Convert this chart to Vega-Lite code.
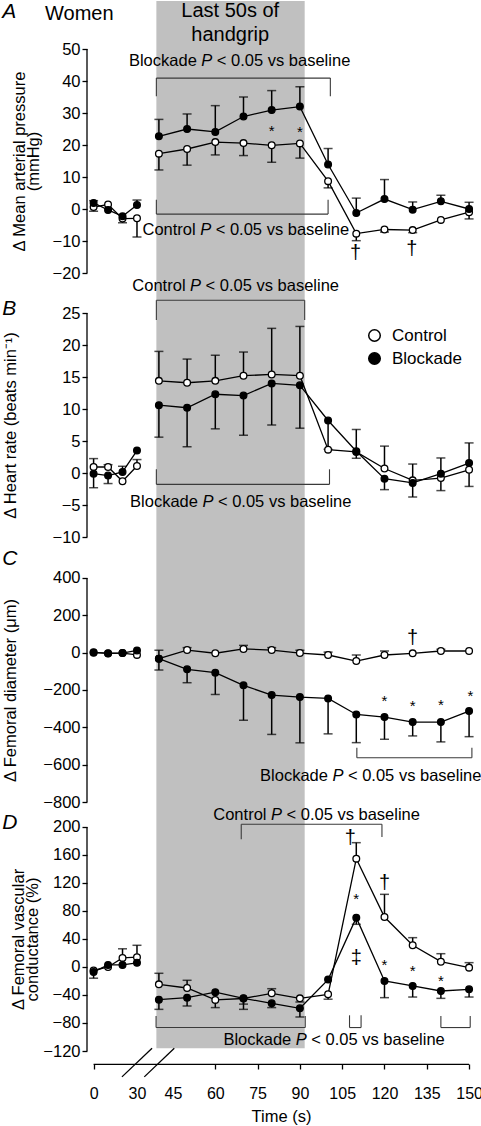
{
"$schema": "https://vega.github.io/schema/vega-lite/v6.json",
"padding": {"left": 2, "top": 0, "right": 0, "bottom": 0},
"background": "white",
"spacing": 0,
"bounds": "flush",
"datasets": {
"s": [
{"p":"A","g":"Control","ph":"pre","t":0,"v":0.6,"e":-0.7},{"p":"A","g":"Control","ph":"pre","t":10,"v":1.4,"e":1.4},{"p":"A","g":"Control","ph":"pre","t":20,"v":-3.0,"e":-4.3},{"p":"A","g":"Control","ph":"pre","t":30,"v":-2.9,"e":-8.75},
{"p":"A","g":"Control","ph":"ex","t":40,"v":17.3,"e":12.2},{"p":"A","g":"Control","ph":"ex","t":50,"v":18.75,"e":13.7},{"p":"A","g":"Control","ph":"ex","t":60,"v":20.9,"e":16.9},{"p":"A","g":"Control","ph":"ex","t":70,"v":20.6,"e":16.7},{"p":"A","g":"Control","ph":"ex","t":80,"v":19.9,"e":14.6},{"p":"A","g":"Control","ph":"ex","t":90,"v":20.5,"e":15.9},{"p":"A","g":"Control","ph":"ex","t":100,"v":8.7,"e":6.6},{"p":"A","g":"Control","ph":"ex","t":110,"v":-7.7,"e":-9.9},{"p":"A","g":"Control","ph":"ex","t":120,"v":-6.4,"e":-7.2},{"p":"A","g":"Control","ph":"ex","t":130,"v":-6.6,"e":-7.4},{"p":"A","g":"Control","ph":"ex","t":140,"v":-3.4,"e":-3.4},{"p":"A","g":"Control","ph":"ex","t":150,"v":-1.0,"e":-3.1},
{"p":"A","g":"Blockade","ph":"pre","t":0,"v":1.9,"e":2.6},{"p":"A","g":"Blockade","ph":"pre","t":10,"v":-0.3,"e":-0.3},{"p":"A","g":"Blockade","ph":"pre","t":20,"v":-2.3,"e":-2.3},{"p":"A","g":"Blockade","ph":"pre","t":30,"v":1.25,"e":2.8},
{"p":"A","g":"Blockade","ph":"ex","t":40,"v":22.7,"e":28.0},{"p":"A","g":"Blockade","ph":"ex","t":50,"v":25.0,"e":29.7},{"p":"A","g":"Blockade","ph":"ex","t":60,"v":24.1,"e":32.3},{"p":"A","g":"Blockade","ph":"ex","t":70,"v":28.9,"e":35.0},{"p":"A","g":"Blockade","ph":"ex","t":80,"v":30.9,"e":37.0},{"p":"A","g":"Blockade","ph":"ex","t":90,"v":32.0,"e":38.2},{"p":"A","g":"Blockade","ph":"ex","t":100,"v":13.9,"e":18.9},{"p":"A","g":"Blockade","ph":"ex","t":110,"v":-1.25,"e":3.4},{"p":"A","g":"Blockade","ph":"ex","t":120,"v":3.1,"e":9.2},{"p":"A","g":"Blockade","ph":"ex","t":130,"v":-0.2,"e":2.2},{"p":"A","g":"Blockade","ph":"ex","t":140,"v":2.4,"e":4.3},{"p":"A","g":"Blockade","ph":"ex","t":150,"v":0.0,"e":2.1},
{"p":"B","g":"Control","ph":"pre","t":0,"v":0.94,"e":2.25},{"p":"B","g":"Control","ph":"pre","t":10,"v":0.94,"e":1.3},{"p":"B","g":"Control","ph":"pre","t":20,"v":-1.3,"e":-1.3},{"p":"B","g":"Control","ph":"pre","t":30,"v":1.1,"e":2.1},
{"p":"B","g":"Control","ph":"ex","t":40,"v":14.4,"e":19.0},{"p":"B","g":"Control","ph":"ex","t":50,"v":14.1,"e":17.8},{"p":"B","g":"Control","ph":"ex","t":60,"v":14.4,"e":18.4},{"p":"B","g":"Control","ph":"ex","t":70,"v":15.2,"e":18.9},{"p":"B","g":"Control","ph":"ex","t":80,"v":15.4,"e":22.6},{"p":"B","g":"Control","ph":"ex","t":90,"v":15.2,"e":22.9},{"p":"B","g":"Control","ph":"ex","t":100,"v":3.65,"e":3.65},{"p":"B","g":"Control","ph":"ex","t":110,"v":3.3,"e":2.3},{"p":"B","g":"Control","ph":"ex","t":120,"v":0.7,"e":4.2},{"p":"B","g":"Control","ph":"ex","t":130,"v":-1.15,"e":1.4},{"p":"B","g":"Control","ph":"ex","t":140,"v":-0.8,"e":-2.75},{"p":"B","g":"Control","ph":"ex","t":150,"v":0.5,"e":-2.1},
{"p":"B","g":"Blockade","ph":"pre","t":0,"v":-0.1,"e":-2.3},{"p":"B","g":"Blockade","ph":"pre","t":10,"v":-0.4,"e":-1.65},{"p":"B","g":"Blockade","ph":"pre","t":20,"v":0.16,"e":1.05},{"p":"B","g":"Blockade","ph":"pre","t":30,"v":3.5,"e":3.5},
{"p":"B","g":"Blockade","ph":"ex","t":40,"v":10.6,"e":5.6},{"p":"B","g":"Blockade","ph":"ex","t":50,"v":10.2,"e":4.1},{"p":"B","g":"Blockade","ph":"ex","t":60,"v":12.3,"e":6.9},{"p":"B","g":"Blockade","ph":"ex","t":70,"v":12.1,"e":5.9},{"p":"B","g":"Blockade","ph":"ex","t":80,"v":14.0,"e":7.5},{"p":"B","g":"Blockade","ph":"ex","t":90,"v":13.7,"e":7.0},{"p":"B","g":"Blockade","ph":"ex","t":100,"v":8.2,"e":3.7},{"p":"B","g":"Blockade","ph":"ex","t":110,"v":3.4,"e":6.8},{"p":"B","g":"Blockade","ph":"ex","t":120,"v":-0.9,"e":-2.6},{"p":"B","g":"Blockade","ph":"ex","t":130,"v":-1.55,"e":-3.75},{"p":"B","g":"Blockade","ph":"ex","t":140,"v":-0.1,"e":2.35},{"p":"B","g":"Blockade","ph":"ex","t":150,"v":1.55,"e":4.7},
{"p":"C","g":"Control","ph":"pre","t":0,"v":0,"e":0},{"p":"C","g":"Control","ph":"pre","t":10,"v":-3,"e":-3},{"p":"C","g":"Control","ph":"pre","t":20,"v":-2,"e":-2},{"p":"C","g":"Control","ph":"pre","t":30,"v":-12,"e":-12},
{"p":"C","g":"Control","ph":"ex","t":40,"v":-32,"e":13},{"p":"C","g":"Control","ph":"ex","t":50,"v":14,"e":27},{"p":"C","g":"Control","ph":"ex","t":60,"v":-3,"e":-3},{"p":"C","g":"Control","ph":"ex","t":70,"v":20,"e":39},{"p":"C","g":"Control","ph":"ex","t":80,"v":14,"e":27},{"p":"C","g":"Control","ph":"ex","t":90,"v":-2,"e":13},{"p":"C","g":"Control","ph":"ex","t":100,"v":-12.5,"e":3},{"p":"C","g":"Control","ph":"ex","t":110,"v":-45,"e":-12.5},{"p":"C","g":"Control","ph":"ex","t":120,"v":-12.5,"e":9},{"p":"C","g":"Control","ph":"ex","t":130,"v":-3.6,"e":-3.6},{"p":"C","g":"Control","ph":"ex","t":140,"v":9,"e":18},{"p":"C","g":"Control","ph":"ex","t":150,"v":9,"e":9},
{"p":"C","g":"Blockade","ph":"pre","t":0,"v":2,"e":2},{"p":"C","g":"Blockade","ph":"pre","t":10,"v":-4,"e":-4},{"p":"C","g":"Blockade","ph":"pre","t":20,"v":-2,"e":-2},{"p":"C","g":"Blockade","ph":"pre","t":30,"v":12,"e":12},
{"p":"C","g":"Blockade","ph":"ex","t":40,"v":-32,"e":-93},{"p":"C","g":"Blockade","ph":"ex","t":50,"v":-89,"e":-161},{"p":"C","g":"Blockade","ph":"ex","t":60,"v":-107,"e":-224},{"p":"C","g":"Blockade","ph":"ex","t":70,"v":-175,"e":-362},{"p":"C","g":"Blockade","ph":"ex","t":80,"v":-227,"e":-438},{"p":"C","g":"Blockade","ph":"ex","t":90,"v":-238,"e":-483},{"p":"C","g":"Blockade","ph":"ex","t":100,"v":-245,"e":-435},{"p":"C","g":"Blockade","ph":"ex","t":110,"v":-331,"e":-482},{"p":"C","g":"Blockade","ph":"ex","t":120,"v":-345,"e":-464},{"p":"C","g":"Blockade","ph":"ex","t":130,"v":-372,"e":-446},{"p":"C","g":"Blockade","ph":"ex","t":140,"v":-372,"e":-478},{"p":"C","g":"Blockade","ph":"ex","t":150,"v":-313,"e":-450},
{"p":"D","g":"Control","ph":"pre","t":0,"v":-5,"e":-5},{"p":"D","g":"Control","ph":"pre","t":10,"v":0,"e":0},{"p":"D","g":"Control","ph":"pre","t":20,"v":13,"e":26},{"p":"D","g":"Control","ph":"pre","t":30,"v":14,"e":31},
{"p":"D","g":"Control","ph":"ex","t":40,"v":-24.8,"e":-9},{"p":"D","g":"Control","ph":"ex","t":50,"v":-30,"e":-19},{"p":"D","g":"Control","ph":"ex","t":60,"v":-47,"e":-58},{"p":"D","g":"Control","ph":"ex","t":70,"v":-45,"e":-53},{"p":"D","g":"Control","ph":"ex","t":80,"v":-37.6,"e":-31},{"p":"D","g":"Control","ph":"ex","t":90,"v":-44.8,"e":-50},{"p":"D","g":"Control","ph":"ex","t":100,"v":-39,"e":-46},{"p":"D","g":"Control","ph":"ex","t":110,"v":154.8,"e":177.6},{"p":"D","g":"Control","ph":"ex","t":120,"v":71.4,"e":103.8},{"p":"D","g":"Control","ph":"ex","t":130,"v":31,"e":41.9},{"p":"D","g":"Control","ph":"ex","t":140,"v":7.6,"e":19},{"p":"D","g":"Control","ph":"ex","t":150,"v":-0.9,"e":6.2},
{"p":"D","g":"Blockade","ph":"pre","t":0,"v":-7,"e":-16},{"p":"D","g":"Blockade","ph":"pre","t":10,"v":3,"e":3},{"p":"D","g":"Blockade","ph":"pre","t":20,"v":3,"e":3},{"p":"D","g":"Blockade","ph":"pre","t":30,"v":6,"e":6},
{"p":"D","g":"Blockade","ph":"ex","t":40,"v":-46.7,"e":-60.5},{"p":"D","g":"Blockade","ph":"ex","t":50,"v":-43.8,"e":-55.7},{"p":"D","g":"Blockade","ph":"ex","t":60,"v":-36,"e":-36},{"p":"D","g":"Blockade","ph":"ex","t":70,"v":-44.8,"e":-60.5},{"p":"D","g":"Blockade","ph":"ex","t":80,"v":-51.9,"e":-58},{"p":"D","g":"Blockade","ph":"ex","t":90,"v":-59,"e":-71.4},{"p":"D","g":"Blockade","ph":"ex","t":100,"v":-18,"e":-18},{"p":"D","g":"Blockade","ph":"ex","t":110,"v":70.5,"e":61},{"p":"D","g":"Blockade","ph":"ex","t":120,"v":-20,"e":-43.8},{"p":"D","g":"Blockade","ph":"ex","t":130,"v":-27,"e":-42.9},{"p":"D","g":"Blockade","ph":"ex","t":140,"v":-34.3,"e":-44.8},{"p":"D","g":"Blockade","ph":"ex","t":150,"v":-31.9,"e":-42.9}
],
"seg": [
{"p":"A","k":"axis","t":-4.56,"t2":-4.56,"v":-20,"v2":50},
{"p":"A","k":"br","t":39.1,"t2":100.8,"v":40.9,"v2":40.9},{"p":"A","k":"br","t":39.1,"t2":39.1,"v":40.9,"v2":35.2},{"p":"A","k":"br","t":100.8,"t2":100.8,"v":40.9,"v2":35.2},
{"p":"A","k":"br","t":39.1,"t2":100,"v":-1.6,"v2":-1.6},{"p":"A","k":"br","t":39.1,"t2":39.1,"v":-1.6,"v2":2.9},{"p":"A","k":"br","t":100,"t2":100,"v":-1.6,"v2":2.9},
{"p":"B","k":"axis","t":-4.56,"t2":-4.56,"v":-10,"v2":25},
{"p":"B","k":"br","t":39.1,"t2":91.7,"v":27.0,"v2":27.0},{"p":"B","k":"br","t":39.1,"t2":39.1,"v":27.0,"v2":23.9},{"p":"B","k":"br","t":91.7,"t2":91.7,"v":27.0,"v2":23.9},
{"p":"B","k":"br","t":39.1,"t2":100.5,"v":-1.77,"v2":-1.77},{"p":"B","k":"br","t":39.1,"t2":39.1,"v":-1.77,"v2":0.58},{"p":"B","k":"br","t":100.5,"t2":100.5,"v":-1.77,"v2":0.58},
{"p":"C","k":"axis","t":-4.56,"t2":-4.56,"v":-800,"v2":400},
{"p":"C","k":"br","t":110.2,"t2":151,"v":-562.7,"v2":-562.7},{"p":"C","k":"br","t":110.2,"t2":110.2,"v":-562.7,"v2":-509},{"p":"C","k":"br","t":151,"t2":151,"v":-562.7,"v2":-509},
{"p":"D","k":"axis","t":-4.56,"t2":-4.56,"v":-120,"v2":200},
{"p":"D","k":"axis","t":0,"t2":150,"v":-139,"v2":-139},
{"p":"D","k":"axis","t":19.6,"t2":37.57,"v":-157,"v2":-116},{"p":"D","k":"axis","t":34.14,"t2":45.46,"v":-157,"v2":-116},
{"p":"D","k":"br","t":69.2,"t2":119.1,"v":203.9,"v2":203.9},{"p":"D","k":"br","t":69.2,"t2":69.2,"v":203.9,"v2":182.4},{"p":"D","k":"br","t":119.1,"t2":119.1,"v":203.9,"v2":185.7},
{"p":"D","k":"br","t":39,"t2":91.9,"v":-86.5,"v2":-86.5},{"p":"D","k":"br","t":39,"t2":39,"v":-86.5,"v2":-70},{"p":"D","k":"br","t":91.9,"t2":91.9,"v":-86.5,"v2":-70},
{"p":"D","k":"br","t":107.6,"t2":111.7,"v":-86.5,"v2":-86.5},{"p":"D","k":"br","t":107.6,"t2":107.6,"v":-86.5,"v2":-69},{"p":"D","k":"br","t":111.7,"t2":111.7,"v":-86.5,"v2":-69},
{"p":"D","k":"br","t":140,"t2":150.4,"v":-86.5,"v2":-86.5},{"p":"D","k":"br","t":140,"t2":140,"v":-86.5,"v2":-70},{"p":"D","k":"br","t":150.4,"t2":150.4,"v":-86.5,"v2":-70}
],
"gray": [
{"p":"A","t":39.1,"t2":91.7,"v":-20,"v2":65},
{"p":"B","t":39.1,"t2":91.7,"v":-10,"v2":31.25},
{"p":"C","t":39.1,"t2":91.7,"v":-800,"v2":619.6},
{"p":"D","t":39.1,"t2":91.7,"v":-116,"v2":235.7}
],
"ann": [
{"p":"A","t":57,"v":46.2,"pre":"Blockade","P":"P","post":"< 0.05 vs baseline"},
{"p":"A","t":56.6,"v":-6.66,"pre":"Control","P":"P","post":"< 0.05 vs baseline"},
{"p":"B","t":53.0,"v":29.2,"pre":"Control","P":"P","post":"< 0.05 vs baseline"},
{"p":"B","t":57.4,"v":-4.53,"pre":"Blockade","P":"P","post":"< 0.05 vs baseline"},
{"p":"C","t":103.5,"v":-660.7,"pre":"Blockade","P":"P","post":"< 0.05 vs baseline"},
{"p":"D","t":81.7,"v":217.6,"pre":"Control","P":"P","post":"< 0.05 vs baseline"},
{"p":"D","t":90.5,"v":-104.7,"pre":"Blockade","P":"P","post":"< 0.05 vs baseline"}
],
"txt": [
{"p":"A","k":"letter","t":-63.1,"v":61.7,"s":"A"},
{"p":"B","k":"letter","t":-63.1,"v":25.7,"s":"B"},
{"p":"C","k":"letter","t":-63.1,"v":504.4,"s":"C"},
{"p":"D","k":"letter","t":-63.1,"v":205,"s":"D"},
{"p":"A","k":"big","t":-9.9,"v":61.0,"s":"Women"},
{"p":"A","k":"big","t":65.3,"v":61.9,"s":"Last 50s of"},
{"p":"A","k":"big","t":65.3,"v":54.4,"s":"handgrip"},
{"p":"A","k":"star","t":80,"v":24.4,"s":"*"},{"p":"A","k":"star","t":90,"v":24.2,"s":"*"},
{"p":"C","k":"star","t":120,"v":-258,"s":"*"},{"p":"C","k":"star","t":130,"v":-285,"s":"*"},{"p":"C","k":"star","t":140,"v":-280,"s":"*"},{"p":"C","k":"star","t":150.5,"v":-230,"s":"*"},
{"p":"D","k":"star","t":110,"v":97.3,"s":"*"},{"p":"D","k":"star","t":120,"v":3,"s":"*"},{"p":"D","k":"star","t":130,"v":-5.1,"s":"*"},{"p":"D","k":"star","t":140,"v":-19.9,"s":"*"},
{"p":"A","k":"dag","t":109.7,"v":-13.7,"s":"†"},{"p":"A","k":"dag","t":129.7,"v":-12.6,"s":"†"},
{"p":"C","k":"dag","t":130,"v":80,"s":"†"},
{"p":"D","k":"dag","t":107.9,"v":184.7,"s":"†"},{"p":"D","k":"dag","t":120,"v":120.4,"s":"†"},{"p":"D","k":"dag","t":110,"v":13.3,"s":"‡"}
]
},
"vconcat": [
{
"width": 388, "height": 272,
"encoding": {
"x": {"field": "t", "type": "quantitative", "scale": {"domain": [-4.56, 32.5, 37.5, 152.1], "range": [0, 53.6, 64.85, 388], "nice": false, "zero": false}, "axis": null},
"y": {"field": "v", "type": "quantitative", "scale": {"domain": [-20, 65], "nice": false, "zero": false}, "axis": {"values": [-20,-10,0,10,20,30,40,50], "domain": false, "grid": false, "tickSize": 5, "tickWidth": 1.3, "tickColor": "black", "labelPadding": 2, "labelFontSize": 16.5, "labelColor": "black", "title": ["Δ Mean arterial pressure", "(mmHg)"], "titleFontSize": 16.5, "titleFontWeight": "normal", "titleColor": "black", "titleAngle": -90, "titleAlign": "center", "titleBaseline": "alphabetic", "titleLineHeight": 14, "titleX": -63, "titleY": 160}}
},
"layer": [
{"data": {"name": "gray"}, "transform": [{"filter": "datum.p == 'A'"}], "mark": {"type": "rect", "color": "#c0c0c0"}, "encoding": {"x2": {"field": "t2"}, "y2": {"field": "v2"}}},
{"data": {"name": "seg"}, "transform": [{"filter": "datum.p == 'A' && datum.k == 'br'"}], "mark": {"type": "rule", "color": "#3a3a3a", "strokeWidth": 1.1}, "encoding": {"x2": {"field": "t2"}, "y2": {"field": "v2"}}},
{"data": {"name": "seg"}, "transform": [{"filter": "datum.p == 'A' && datum.k == 'axis'"}], "mark": {"type": "rule", "color": "black", "strokeWidth": 1.3}, "encoding": {"x2": {"field": "t2"}, "y2": {"field": "v2"}}},
{"data": {"name": "s"}, "transform": [{"filter": "datum.p == 'A'"}], "mark": {"type": "rule", "color": "black", "strokeWidth": 1.5}, "encoding": {"y2": {"field": "e"}}},
{"data": {"name": "s"}, "transform": [{"filter": "datum.p == 'A' && datum.e != datum.v"}], "mark": {"type": "tick", "orient": "horizontal", "color": "black", "size": 9, "thickness": 1.5}, "encoding": {"y": {"field": "e", "type": "quantitative", "scale": {"domain": [-20, 65], "nice": false, "zero": false}, "axis": {"values": [-20,-10,0,10,20,30,40,50], "domain": false, "grid": false, "tickSize": 5, "tickWidth": 1.3, "tickColor": "black", "labelPadding": 2, "labelFontSize": 16.5, "labelColor": "black", "title": ["Δ Mean arterial pressure", "(mmHg)"], "titleFontSize": 16.5, "titleFontWeight": "normal", "titleColor": "black", "titleAngle": -90, "titleAlign": "center", "titleBaseline": "alphabetic", "titleLineHeight": 14, "titleX": -63, "titleY": 160}}}},
{"data": {"name": "s"}, "transform": [{"filter": "datum.p == 'A'"}], "mark": {"type": "line", "color": "black", "strokeWidth": 1.3}, "encoding": {"detail": [{"field": "g"}, {"field": "ph"}]}},
{"data": {"name": "s"}, "transform": [{"filter": "datum.p == 'A'"}], "mark": {"type": "circle", "size": 45, "stroke": "black", "strokeWidth": 1.3, "opacity": 1}, "encoding": {"fill": {"field": "g", "type": "nominal", "scale": {"domain": ["Control", "Blockade"], "range": ["white", "black"]}, "legend": {"orient": "none", "legendX": 279, "legendY": 326, "title": null, "symbolType": "circle", "symbolSize": 133, "symbolStrokeColor": "black", "symbolStrokeWidth": 1.5, "labelFontSize": 17, "labelColor": "black", "labelOffset": 9, "rowPadding": 4, "padding": 0}}}},
{"data": {"name": "ann"}, "transform": [{"filter": "datum.p == 'A'"}], "mark": {"type": "text", "align": "right", "dx": -10, "fontSize": 16.5}, "encoding": {"text": {"field": "pre"}}},
{"data": {"name": "ann"}, "transform": [{"filter": "datum.p == 'A'"}], "mark": {"type": "text", "align": "center", "fontStyle": "italic", "fontSize": 16.5}, "encoding": {"text": {"field": "P"}}},
{"data": {"name": "ann"}, "transform": [{"filter": "datum.p == 'A'"}], "mark": {"type": "text", "align": "left", "dx": 10, "fontSize": 16.5}, "encoding": {"text": {"field": "post"}}},
{"data": {"name": "txt"}, "transform": [{"filter": "datum.p == 'A' && datum.k == 'letter'"}], "mark": {"type": "text", "align": "left", "fontSize": 21, "fontStyle": "italic"}, "encoding": {"text": {"field": "s"}}},
{"data": {"name": "txt"}, "transform": [{"filter": "datum.p == 'A' && datum.k == 'big'"}], "mark": {"type": "text", "align": "center", "fontSize": 20}, "encoding": {"text": {"field": "s"}}},
{"data": {"name": "txt"}, "transform": [{"filter": "datum.p == 'A' && datum.k == 'star'"}], "mark": {"type": "text", "align": "center", "fontSize": 15}, "encoding": {"text": {"field": "s"}}},
{"data": {"name": "txt"}, "transform": [{"filter": "datum.p == 'A' && datum.k == 'dag'"}], "mark": {"type": "text", "align": "center", "fontSize": 20}, "encoding": {"text": {"field": "s"}}}
]
},
{
"width": 388, "height": 264,
"encoding": {
"x": {"field": "t", "type": "quantitative", "scale": {"domain": [-4.56, 32.5, 37.5, 152.1], "range": [0, 53.6, 64.85, 388], "nice": false, "zero": false}, "axis": null},
"y": {"field": "v", "type": "quantitative", "scale": {"domain": [-10, 31.25], "nice": false, "zero": false}, "axis": {"values": [-10,-5,0,5,10,15,20,25], "domain": false, "grid": false, "tickSize": 5, "tickWidth": 1.3, "tickColor": "black", "labelPadding": 2, "labelFontSize": 16.5, "labelColor": "black", "title": "Δ Heart rate (beats min⁻¹)", "titleFontSize": 16.5, "titleFontWeight": "normal", "titleColor": "black", "titleAngle": -90, "titleAlign": "center", "titleBaseline": "alphabetic", "titleX": -71.5, "titleY": 152}}
},
"layer": [
{"data": {"name": "gray"}, "transform": [{"filter": "datum.p == 'B'"}], "mark": {"type": "rect", "color": "#c0c0c0"}, "encoding": {"x2": {"field": "t2"}, "y2": {"field": "v2"}}},
{"data": {"name": "seg"}, "transform": [{"filter": "datum.p == 'B' && datum.k == 'br'"}], "mark": {"type": "rule", "color": "#3a3a3a", "strokeWidth": 1.1}, "encoding": {"x2": {"field": "t2"}, "y2": {"field": "v2"}}},
{"data": {"name": "seg"}, "transform": [{"filter": "datum.p == 'B' && datum.k == 'axis'"}], "mark": {"type": "rule", "color": "black", "strokeWidth": 1.3}, "encoding": {"x2": {"field": "t2"}, "y2": {"field": "v2"}}},
{"data": {"name": "s"}, "transform": [{"filter": "datum.p == 'B'"}], "mark": {"type": "rule", "color": "black", "strokeWidth": 1.5}, "encoding": {"y2": {"field": "e"}}},
{"data": {"name": "s"}, "transform": [{"filter": "datum.p == 'B' && datum.e != datum.v"}], "mark": {"type": "tick", "orient": "horizontal", "color": "black", "size": 9, "thickness": 1.5}, "encoding": {"y": {"field": "e", "type": "quantitative", "scale": {"domain": [-10, 31.25], "nice": false, "zero": false}, "axis": {"values": [-10,-5,0,5,10,15,20,25], "domain": false, "grid": false, "tickSize": 5, "tickWidth": 1.3, "tickColor": "black", "labelPadding": 2, "labelFontSize": 16.5, "labelColor": "black", "title": "Δ Heart rate (beats min⁻¹)", "titleFontSize": 16.5, "titleFontWeight": "normal", "titleColor": "black", "titleAngle": -90, "titleAlign": "center", "titleBaseline": "alphabetic", "titleX": -71.5, "titleY": 152}}}},
{"data": {"name": "s"}, "transform": [{"filter": "datum.p == 'B'"}], "mark": {"type": "line", "color": "black", "strokeWidth": 1.3}, "encoding": {"detail": [{"field": "g"}, {"field": "ph"}]}},
{"data": {"name": "s"}, "transform": [{"filter": "datum.p == 'B'"}], "mark": {"type": "circle", "size": 45, "stroke": "black", "strokeWidth": 1.3, "opacity": 1}, "encoding": {"fill": {"field": "g", "type": "nominal", "scale": {"domain": ["Control", "Blockade"], "range": ["white", "black"]}, "legend": {"orient": "none", "legendX": 279, "legendY": 326, "title": null, "symbolType": "circle", "symbolSize": 133, "symbolStrokeColor": "black", "symbolStrokeWidth": 1.5, "labelFontSize": 17, "labelColor": "black", "labelOffset": 9, "rowPadding": 4, "padding": 0}}}},
{"data": {"name": "ann"}, "transform": [{"filter": "datum.p == 'B'"}], "mark": {"type": "text", "align": "right", "dx": -10, "fontSize": 16.5}, "encoding": {"text": {"field": "pre"}}},
{"data": {"name": "ann"}, "transform": [{"filter": "datum.p == 'B'"}], "mark": {"type": "text", "align": "center", "fontStyle": "italic", "fontSize": 16.5}, "encoding": {"text": {"field": "P"}}},
{"data": {"name": "ann"}, "transform": [{"filter": "datum.p == 'B'"}], "mark": {"type": "text", "align": "left", "dx": 10, "fontSize": 16.5}, "encoding": {"text": {"field": "post"}}},
{"data": {"name": "txt"}, "transform": [{"filter": "datum.p == 'B' && datum.k == 'letter'"}], "mark": {"type": "text", "align": "left", "fontSize": 21, "fontStyle": "italic"}, "encoding": {"text": {"field": "s"}}}
]
},
{
"width": 388, "height": 265,
"encoding": {
"x": {"field": "t", "type": "quantitative", "scale": {"domain": [-4.56, 32.5, 37.5, 152.1], "range": [0, 53.6, 64.85, 388], "nice": false, "zero": false}, "axis": null},
"y": {"field": "v", "type": "quantitative", "scale": {"domain": [-800, 619.6], "nice": false, "zero": false}, "axis": {"values": [-800,-600,-400,-200,0,200,400], "domain": false, "grid": false, "tickSize": 5, "tickWidth": 1.3, "tickColor": "black", "labelPadding": 2, "labelFontSize": 16.5, "labelColor": "black", "title": "Δ Femoral diameter (μm)", "titleFontSize": 16.5, "titleFontWeight": "normal", "titleColor": "black", "titleAngle": -90, "titleAlign": "center", "titleBaseline": "alphabetic", "titleX": -72, "titleY": 153}}
},
"layer": [
{"data": {"name": "gray"}, "transform": [{"filter": "datum.p == 'C'"}], "mark": {"type": "rect", "color": "#c0c0c0"}, "encoding": {"x2": {"field": "t2"}, "y2": {"field": "v2"}}},
{"data": {"name": "seg"}, "transform": [{"filter": "datum.p == 'C' && datum.k == 'br'"}], "mark": {"type": "rule", "color": "#3a3a3a", "strokeWidth": 1.1}, "encoding": {"x2": {"field": "t2"}, "y2": {"field": "v2"}}},
{"data": {"name": "seg"}, "transform": [{"filter": "datum.p == 'C' && datum.k == 'axis'"}], "mark": {"type": "rule", "color": "black", "strokeWidth": 1.3}, "encoding": {"x2": {"field": "t2"}, "y2": {"field": "v2"}}},
{"data": {"name": "s"}, "transform": [{"filter": "datum.p == 'C'"}], "mark": {"type": "rule", "color": "black", "strokeWidth": 1.5}, "encoding": {"y2": {"field": "e"}}},
{"data": {"name": "s"}, "transform": [{"filter": "datum.p == 'C' && datum.e != datum.v"}], "mark": {"type": "tick", "orient": "horizontal", "color": "black", "size": 9, "thickness": 1.5}, "encoding": {"y": {"field": "e", "type": "quantitative", "scale": {"domain": [-800, 619.6], "nice": false, "zero": false}, "axis": {"values": [-800,-600,-400,-200,0,200,400], "domain": false, "grid": false, "tickSize": 5, "tickWidth": 1.3, "tickColor": "black", "labelPadding": 2, "labelFontSize": 16.5, "labelColor": "black", "title": "Δ Femoral diameter (μm)", "titleFontSize": 16.5, "titleFontWeight": "normal", "titleColor": "black", "titleAngle": -90, "titleAlign": "center", "titleBaseline": "alphabetic", "titleX": -72, "titleY": 153}}}},
{"data": {"name": "s"}, "transform": [{"filter": "datum.p == 'C'"}], "mark": {"type": "line", "color": "black", "strokeWidth": 1.3}, "encoding": {"detail": [{"field": "g"}, {"field": "ph"}]}},
{"data": {"name": "s"}, "transform": [{"filter": "datum.p == 'C'"}], "mark": {"type": "circle", "size": 45, "stroke": "black", "strokeWidth": 1.3, "opacity": 1}, "encoding": {"fill": {"field": "g", "type": "nominal", "scale": {"domain": ["Control", "Blockade"], "range": ["white", "black"]}, "legend": {"orient": "none", "legendX": 279, "legendY": 326, "title": null, "symbolType": "circle", "symbolSize": 133, "symbolStrokeColor": "black", "symbolStrokeWidth": 1.5, "labelFontSize": 17, "labelColor": "black", "labelOffset": 9, "rowPadding": 4, "padding": 0}}}},
{"data": {"name": "ann"}, "transform": [{"filter": "datum.p == 'C'"}], "mark": {"type": "text", "align": "right", "dx": -10, "fontSize": 16.5}, "encoding": {"text": {"field": "pre"}}},
{"data": {"name": "ann"}, "transform": [{"filter": "datum.p == 'C'"}], "mark": {"type": "text", "align": "center", "fontStyle": "italic", "fontSize": 16.5}, "encoding": {"text": {"field": "P"}}},
{"data": {"name": "ann"}, "transform": [{"filter": "datum.p == 'C'"}], "mark": {"type": "text", "align": "left", "dx": 10, "fontSize": 16.5}, "encoding": {"text": {"field": "post"}}},
{"data": {"name": "txt"}, "transform": [{"filter": "datum.p == 'C' && datum.k == 'letter'"}], "mark": {"type": "text", "align": "left", "fontSize": 21, "fontStyle": "italic"}, "encoding": {"text": {"field": "s"}}},
{"data": {"name": "txt"}, "transform": [{"filter": "datum.p == 'C' && datum.k == 'star'"}], "mark": {"type": "text", "align": "center", "fontSize": 15}, "encoding": {"text": {"field": "s"}}},
{"data": {"name": "txt"}, "transform": [{"filter": "datum.p == 'C' && datum.k == 'dag'"}], "mark": {"type": "text", "align": "center", "fontSize": 20}, "encoding": {"text": {"field": "s"}}}
]
},
{
"width": 388, "height": 249,
"encoding": {
"x": {"field": "t", "type": "quantitative", "scale": {"domain": [-4.56, 32.5, 37.5, 152.1], "range": [0, 53.6, 64.85, 388], "nice": false, "zero": false}, "axis": {"values": [0,30,45,60,75,90,105,120,135,150], "domain": false, "grid": false, "offset": 13, "tickSize": 5, "tickWidth": 1.3, "tickColor": "black", "tickOpacity": {"condition": {"test": "datum.value == 30 || datum.value == 45", "value": 0}, "value": 1}, "labelPadding": 16, "labelFontSize": 16, "labelColor": "black", "labelFlush": false, "labelOverlap": false, "title": "Time (s)", "titleFontSize": 16.5, "titleFontWeight": "normal", "titleColor": "black", "titlePadding": 7}},
"y": {"field": "v", "type": "quantitative", "scale": {"domain": [-120, 235.7], "nice": false, "zero": false}, "axis": {"values": [-120,-80,-40,0,40,80,120,160,200], "domain": false, "grid": false, "tickSize": 5, "tickWidth": 1.3, "tickColor": "black", "labelPadding": 2, "labelFontSize": 16.5, "labelColor": "black", "title": ["Δ Femoral vascular", "conductance (%)"], "titleFontSize": 16.5, "titleFontWeight": "normal", "titleColor": "black", "titleAngle": -90, "titleAlign": "center", "titleBaseline": "alphabetic", "titleLineHeight": 14, "titleX": -64, "titleY": 137}}
},
"layer": [
{"data": {"name": "gray"}, "transform": [{"filter": "datum.p == 'D'"}], "mark": {"type": "rect", "color": "#c0c0c0"}, "encoding": {"x2": {"field": "t2"}, "y2": {"field": "v2"}}},
{"data": {"name": "seg"}, "transform": [{"filter": "datum.p == 'D' && datum.k == 'br'"}], "mark": {"type": "rule", "color": "#3a3a3a", "strokeWidth": 1.1}, "encoding": {"x2": {"field": "t2"}, "y2": {"field": "v2"}}},
{"data": {"name": "seg"}, "transform": [{"filter": "datum.p == 'D' && datum.k == 'axis'"}], "mark": {"type": "rule", "color": "black", "strokeWidth": 1.3}, "encoding": {"x2": {"field": "t2"}, "y2": {"field": "v2"}}},
{"data": {"name": "s"}, "transform": [{"filter": "datum.p == 'D'"}], "mark": {"type": "rule", "color": "black", "strokeWidth": 1.5}, "encoding": {"y2": {"field": "e"}}},
{"data": {"name": "s"}, "transform": [{"filter": "datum.p == 'D' && datum.e != datum.v"}], "mark": {"type": "tick", "orient": "horizontal", "color": "black", "size": 9, "thickness": 1.5}, "encoding": {"y": {"field": "e", "type": "quantitative", "scale": {"domain": [-120, 235.7], "nice": false, "zero": false}, "axis": {"values": [-120,-80,-40,0,40,80,120,160,200], "domain": false, "grid": false, "tickSize": 5, "tickWidth": 1.3, "tickColor": "black", "labelPadding": 2, "labelFontSize": 16.5, "labelColor": "black", "title": ["Δ Femoral vascular", "conductance (%)"], "titleFontSize": 16.5, "titleFontWeight": "normal", "titleColor": "black", "titleAngle": -90, "titleAlign": "center", "titleBaseline": "alphabetic", "titleLineHeight": 14, "titleX": -64, "titleY": 137}}}},
{"data": {"name": "s"}, "transform": [{"filter": "datum.p == 'D'"}], "mark": {"type": "line", "color": "black", "strokeWidth": 1.3}, "encoding": {"detail": [{"field": "g"}, {"field": "ph"}]}},
{"data": {"name": "s"}, "transform": [{"filter": "datum.p == 'D'"}], "mark": {"type": "circle", "size": 45, "stroke": "black", "strokeWidth": 1.3, "opacity": 1}, "encoding": {"fill": {"field": "g", "type": "nominal", "scale": {"domain": ["Control", "Blockade"], "range": ["white", "black"]}, "legend": {"orient": "none", "legendX": 279, "legendY": 326, "title": null, "symbolType": "circle", "symbolSize": 133, "symbolStrokeColor": "black", "symbolStrokeWidth": 1.5, "labelFontSize": 17, "labelColor": "black", "labelOffset": 9, "rowPadding": 4, "padding": 0}}}},
{"data": {"name": "ann"}, "transform": [{"filter": "datum.p == 'D'"}], "mark": {"type": "text", "align": "right", "dx": -10, "fontSize": 16.5}, "encoding": {"text": {"field": "pre"}}},
{"data": {"name": "ann"}, "transform": [{"filter": "datum.p == 'D'"}], "mark": {"type": "text", "align": "center", "fontStyle": "italic", "fontSize": 16.5}, "encoding": {"text": {"field": "P"}}},
{"data": {"name": "ann"}, "transform": [{"filter": "datum.p == 'D'"}], "mark": {"type": "text", "align": "left", "dx": 10, "fontSize": 16.5}, "encoding": {"text": {"field": "post"}}},
{"data": {"name": "txt"}, "transform": [{"filter": "datum.p == 'D' && datum.k == 'letter'"}], "mark": {"type": "text", "align": "left", "fontSize": 21, "fontStyle": "italic"}, "encoding": {"text": {"field": "s"}}},
{"data": {"name": "txt"}, "transform": [{"filter": "datum.p == 'D' && datum.k == 'star'"}], "mark": {"type": "text", "align": "center", "fontSize": 15}, "encoding": {"text": {"field": "s"}}},
{"data": {"name": "txt"}, "transform": [{"filter": "datum.p == 'D' && datum.k == 'dag'"}], "mark": {"type": "text", "align": "center", "fontSize": 20}, "encoding": {"text": {"field": "s"}}}
]
}
],
"config": {
"view": {"stroke": null},
"font": "Liberation Sans",
"text": {"font": "Liberation Sans", "color": "black", "baseline": "middle"},
"axis": {"labelFont": "Liberation Sans", "titleFont": "Liberation Sans"},
"legend": {"labelFont": "Liberation Sans"}
}
}
